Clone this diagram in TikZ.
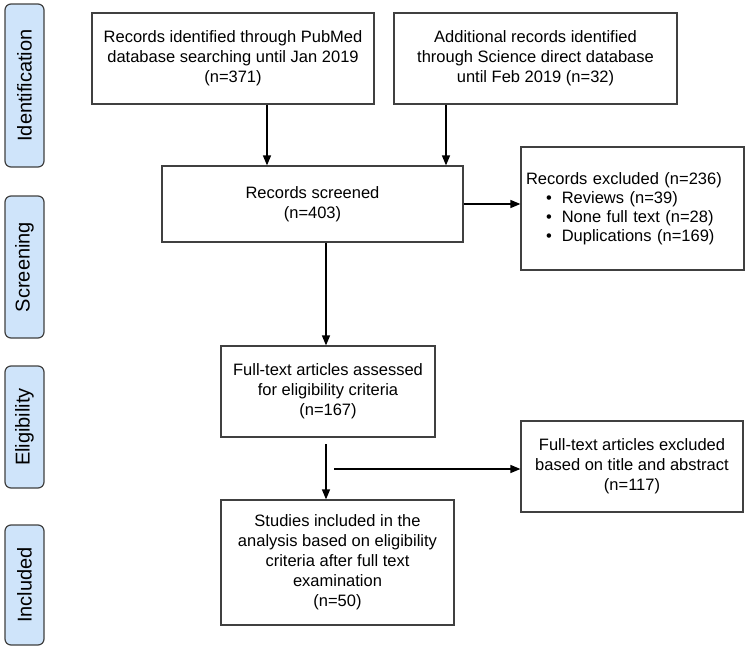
\documentclass[tikz,border=0pt]{standalone}
\usepackage{fontspec}
\setmainfont{Liberation Sans}
\usetikzlibrary{arrows.meta}
\definecolor{lab}{RGB}{207,228,250}
\definecolor{edge}{RGB}{64,64,64}
\begin{document}
\begin{tikzpicture}[x=1pt,y=-1pt,
  box/.style={draw=edge, line width=1.2pt, align=center, inner sep=0pt,
    font=\fontsize{16.5}{20}\selectfont},
  stage/.style={draw=edge, fill=lab, line width=1.2pt, rounded corners=6pt,
    rotate=90, inner sep=0pt, minimum height=39pt,
    font=\fontsize{20}{24}\selectfont},
  arr/.style={draw=black, line width=1.3pt, -{Triangle[length=10pt,width=8pt]}}]
\useasboundingbox (0,0) rectangle (749,653);
% stage labels
\node[stage, minimum width=163pt] (s1) at (24.5,85.5) {Identification};
\node[stage, minimum width=142pt] (s2) at (24.5,267) {Screening};
\node[stage, minimum width=122pt] (s3) at (24.5,427) {Eligibility};
\node[stage, minimum width=120pt] (s4) at (24.5,585) {Included};
% boxes
\node[box, minimum width=282pt, minimum height=91pt] (b1) at (233,58.5)
  {Records identified through PubMed\\database searching until Jan 2019\\(n=371)};
\node[box, minimum width=283pt, minimum height=91pt] (b2) at (535.5,58.5)
  {Additional records identified\\through Science direct database\\until Feb 2019 (n=32)};
\node[box, minimum width=301pt, minimum height=76pt] (sc) at (312.5,204)
  {Records screened\\(n=403)};
\node[box, align=left, text width=213pt, inner xsep=5pt, minimum height=123pt,
  font=\fontsize{16.5}{19}\selectfont] (ex) at (632.5,208.5)
  {Records excluded (n=236)\\
   \hspace*{20pt}\textbullet\hspace{10pt}Reviews (n=39)\\
   \hspace*{20pt}\textbullet\hspace{10pt}None full text (n=28)\\
   \hspace*{20pt}\textbullet\hspace{10pt}Duplications (n=169)};
\node[box, minimum width=214pt, minimum height=91pt] (ft) at (328,391.5)
  {Full-text articles assessed\\for eligibility criteria\\(n=167)};
\node[box, minimum width=222pt, minimum height=91pt] (ex2) at (632,466.5)
  {Full-text articles excluded\\based on title and abstract\\(n=117)};
\node[box, minimum width=233pt, minimum height=125pt] (st) at (337.5,562.5)
  {Studies included in the\\analysis based on eligibility\\criteria after full text\\examination\\(n=50)};
% connectors
\coordinate (a1) at ([xshift=34pt]b1.south);
\coordinate (a2) at ([xshift=-89.5pt]b2.south);
\coordinate (a3) at ([xshift=13.5pt]sc.south);
\coordinate (a4) at (326,444);
\coordinate (a5) at (334,469);
\draw[arr] (a1) -- (a1 |- sc.north);
\draw[arr] (a2) -- (a2 |- sc.north);
\draw[arr] (sc.east) -- (sc.east -| ex.west);
\draw[arr] (a3) -- (a3 |- ft.north);
\draw[arr] (a4) -- (a4 |- st.north);
\draw[arr] (a5) -- (a5 -| ex2.west);
\end{tikzpicture}
\end{document}
